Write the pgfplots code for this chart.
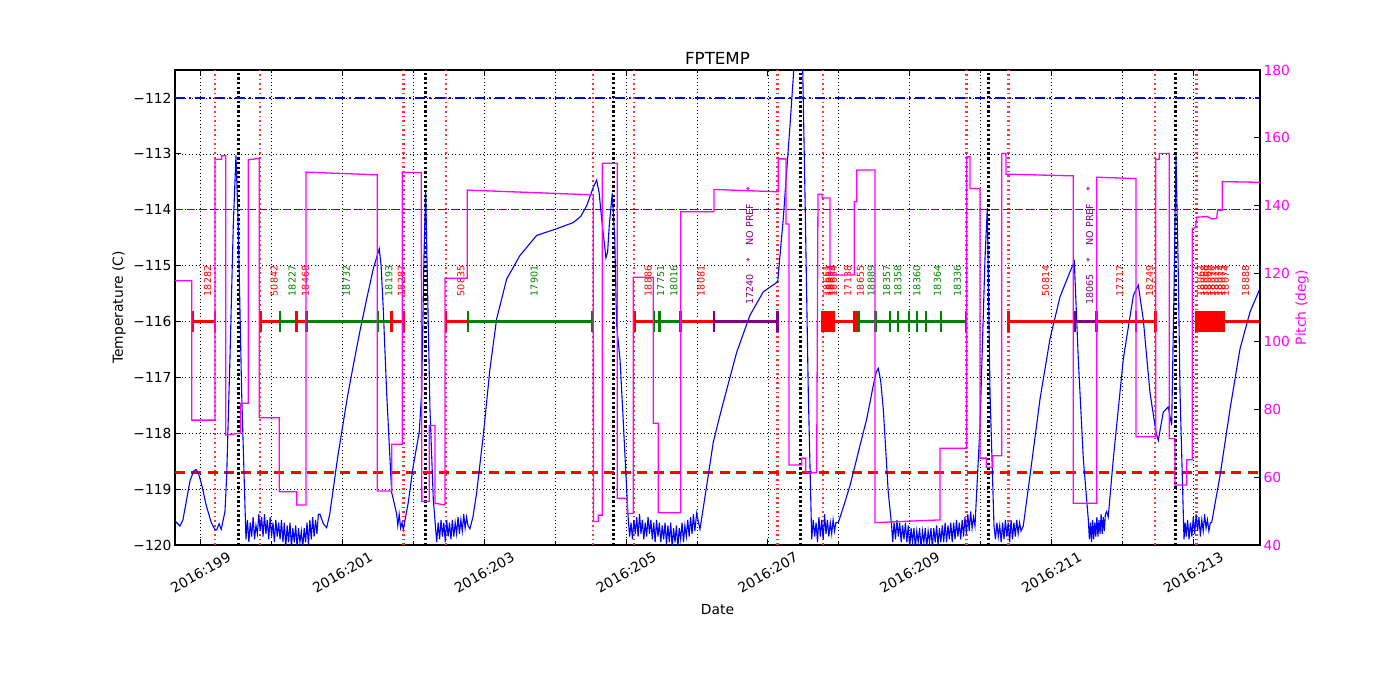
\documentclass[border=0pt]{standalone}
\usepackage{fontspec}
\setmainfont{DejaVu Sans}
\usepackage{pgfplots}
\usepackage{pgfplotstable}
\pgfplotsset{compat=1.18}
\definecolor{mred}{RGB}{255,0,0}
\definecolor{mlred}{RGB}{255,50,50}
\definecolor{mgreen}{RGB}{0,128,0}
\definecolor{mpurple}{RGB}{128,0,128}
\definecolor{mmag}{RGB}{255,0,255}
\definecolor{mblue}{RGB}{0,0,255}
\newcommand{\labfont}{\fontsize{9.6}{11}\selectfont}
\newcommand{\seg}[3]{\addplot[color=#1, line width=2.4bp, mark=|, mark size=10.5bp, mark options={solid, line width=2.4bp}] coordinates {(#2,-116) (#3,-116)};}
\newcommand{\lab}[4]{\node[rotate=90, anchor=north west, inner sep=0pt, text=#1, font=\labfont] at (axis cs:#2,#3) {#4};}

\pgfplotstableread{
x y
198.638 -119.57
198.708 -119.66
198.75 -119.55
198.80 -119.20
198.85 -118.85
198.90 -118.68
198.934 -118.65
198.97 -118.72
199.02 -118.95
199.08 -119.30
199.15 -119.60
199.20 -119.72
199.226 -119.73
199.26 -119.62
199.29 -119.72
199.343 -119.40
199.367 -118.76
199.413 -116.67
199.46 -114.28
199.498 -113.03
199.53 -114.28
199.578 -117.27
199.639 -119.90
199.66 -119.55
199.68 -119.95
199.70 -119.60
199.72 -119.85
199.74 -119.50
199.76 -119.90
199.78 -119.65
199.80 -119.80
199.82 -119.45
199.84 -119.75
199.86 -119.50
199.88 -119.85
199.90 -119.45
199.92 -119.80
199.94 -119.55
199.96 -119.90
199.98 -119.50
200.00 -119.85
200.02 -119.60
200.04 -119.95
200.06 -119.55
200.08 -119.85
200.10 -119.60
200.12 -119.90
200.14 -119.55
200.16 -119.95
200.18 -119.60
200.20 -120.05
200.22 -119.65
200.24 -119.95
200.26 -119.60
200.28 -120.05
200.30 -119.70
200.32 -119.95
200.34 -119.65
200.36 -120.05
200.38 -119.70
200.40 -119.95
200.42 -119.75
200.44 -120.05
200.46 -119.70
200.48 -119.95
200.50 -119.60
200.52 -120.00
200.54 -119.55
200.56 -119.90
200.58 -119.50
200.60 -119.85
200.62 -119.55
200.64 -119.80
200.66 -119.45
200.683 -119.45
200.73 -119.62
200.777 -119.69
200.82 -119.45
200.870 -119.00
200.93 -118.45
200.997 -117.92
201.07 -117.35
201.152 -116.79
201.25 -116.15
201.341 -115.60
201.434 -115.06
201.519 -114.70
201.545 -115.00
201.575 -115.77
201.623 -117.27
201.694 -119.06
201.764 -119.44
201.78 -119.65
201.80 -119.45
201.82 -119.70
201.84 -119.60
201.858 -119.72
201.928 -119.24
201.999 -118.58
202.083 -117.98
202.117 -117.27
202.149 -114.88
202.173 -113.65
202.201 -115.47
202.234 -117.57
202.281 -119.18
202.329 -119.95
202.35 -119.60
202.37 -119.90
202.39 -119.55
202.41 -119.85
202.43 -119.60
202.45 -119.95
202.47 -119.55
202.49 -119.85
202.51 -119.60
202.53 -119.90
202.55 -119.55
202.57 -119.85
202.59 -119.60
202.61 -119.80
202.63 -119.50
202.65 -119.80
202.67 -119.55
202.69 -119.75
202.71 -119.45
202.73 -119.70
202.75 -119.50
202.77 -119.65
202.798 -119.71
202.84 -119.50
202.893 -119.06
202.986 -118.04
203.080 -116.85
203.175 -115.95
203.316 -115.24
203.503 -114.82
203.739 -114.46
204.021 -114.34
204.255 -114.23
204.36 -114.12
204.444 -113.93
204.537 -113.60
204.585 -113.47
204.62 -113.70
204.656 -114.17
204.716 -114.86
204.74 -114.75
204.763 -114.28
204.805 -113.71
204.84 -114.50
204.867 -116.07
204.914 -116.67
204.952 -117.57
205.008 -119.00
205.031 -119.54
205.05 -119.85
205.07 -119.60
205.09 -119.90
205.11 -119.55
205.13 -119.80
205.15 -119.50
205.17 -119.85
205.19 -119.45
205.21 -119.80
205.23 -119.55
205.25 -119.90
205.27 -119.60
205.29 -119.85
205.31 -119.50
205.33 -119.80
205.35 -119.55
205.37 -119.90
205.39 -119.60
205.41 -119.95
205.43 -119.55
205.45 -119.85
205.47 -119.60
205.49 -119.95
205.51 -119.65
205.53 -119.90
205.55 -119.60
205.57 -120.00
205.59 -119.65
205.61 -119.95
205.63 -119.60
205.65 -120.05
205.67 -119.70
205.69 -119.95
205.71 -119.65
205.73 -120.05
205.75 -119.70
205.77 -119.90
205.79 -119.60
205.81 -119.95
205.83 -119.65
205.85 -119.85
205.87 -119.55
205.89 -119.85
205.91 -119.50
205.93 -119.80
205.95 -119.45
205.97 -119.75
205.996 -119.43
206.042 -119.72
206.137 -118.94
206.230 -118.16
206.30 -117.80
206.371 -117.45
206.560 -116.55
206.747 -115.89
206.935 -115.47
207.138 -115.29
207.217 -114.16
207.312 -112.49
207.367 -111.47
207.40 -111.00
207.43 -110.80
207.46 -111.00
207.491 -111.47
207.523 -113.70
207.570 -117.27
207.618 -119.90
207.64 -119.55
207.66 -119.85
207.68 -119.60
207.70 -119.95
207.72 -119.50
207.74 -119.85
207.76 -119.55
207.78 -119.90
207.80 -119.45
207.82 -119.80
207.84 -119.55
207.86 -119.85
207.88 -119.60
207.90 -119.80
207.92 -119.55
207.94 -119.75
207.96 -119.60
207.993 -119.60
208.07 -119.30
208.158 -118.94
208.299 -118.22
208.393 -117.75
208.486 -117.15
208.53 -116.90
208.557 -116.84
208.59 -117.05
208.628 -117.57
208.698 -119.06
208.746 -119.66
208.76 -119.95
208.78 -119.60
208.80 -119.90
208.82 -119.55
208.84 -119.85
208.86 -119.60
208.88 -119.95
208.90 -119.65
208.92 -119.90
208.94 -119.60
208.96 -119.95
208.98 -119.65
209.00 -120.05
209.02 -119.70
209.04 -119.95
209.06 -119.70
209.08 -120.05
209.10 -119.75
209.12 -119.95
209.14 -119.70
209.16 -120.05
209.18 -119.75
209.20 -119.95
209.22 -119.70
209.24 -120.05
209.26 -119.75
209.28 -119.95
209.30 -119.70
209.32 -120.05
209.34 -119.70
209.36 -119.95
209.38 -119.65
209.40 -120.00
209.42 -119.70
209.44 -119.95
209.46 -119.65
209.48 -119.95
209.50 -119.60
209.52 -119.95
209.54 -119.65
209.56 -119.90
209.58 -119.60
209.60 -119.95
209.62 -119.60
209.64 -119.90
209.66 -119.55
209.68 -119.85
209.70 -119.60
209.72 -119.90
209.74 -119.55
209.76 -119.85
209.78 -119.50
209.80 -119.80
209.82 -119.45
209.84 -119.75
209.86 -119.40
209.88 -119.70
209.90 -119.50
209.921 -119.66
209.992 -117.86
210.062 -114.88
210.095 -113.97
210.133 -117.27
210.189 -119.66
210.21 -119.90
210.23 -119.60
210.25 -119.85
210.27 -119.65
210.29 -119.95
210.31 -119.60
210.33 -119.90
210.35 -119.55
210.37 -119.85
210.39 -119.60
210.41 -119.95
210.43 -119.55
210.45 -119.90
210.47 -119.60
210.49 -119.85
210.51 -119.55
210.53 -119.80
210.55 -119.60
210.57 -119.75
210.602 -119.66
210.697 -118.76
210.838 -117.39
210.979 -116.31
211.120 -115.56
211.261 -115.11
211.322 -114.93
211.378 -116.67
211.449 -118.46
211.519 -119.54
211.535 -119.90
211.55 -119.60
211.565 -119.95
211.58 -119.55
211.595 -119.90
211.61 -119.60
211.625 -119.85
211.64 -119.50
211.655 -119.85
211.67 -119.55
211.685 -119.80
211.70 -119.45
211.715 -119.80
211.73 -119.50
211.745 -119.75
211.76 -119.45
211.778 -119.40
211.80 -119.50
211.872 -118.46
212.013 -116.67
212.154 -115.54
212.224 -115.35
212.295 -115.97
212.389 -117.27
212.474 -117.98
212.506 -118.13
212.577 -117.62
212.647 -117.53
212.695 -117.86
212.728 -115.47
212.756 -113.03
212.785 -114.88
212.813 -117.27
212.869 -119.90
212.885 -119.60
212.90 -119.85
212.92 -119.55
212.94 -119.90
212.96 -119.60
212.98 -119.85
213.00 -119.50
213.02 -119.80
213.04 -119.45
213.06 -119.75
213.08 -119.50
213.10 -119.85
213.12 -119.55
213.14 -119.75
213.16 -119.45
213.18 -119.70
213.20 -119.55
213.22 -119.75
213.24 -119.60
213.259 -119.60
213.377 -118.76
213.518 -117.57
213.659 -116.49
213.800 -115.83
213.941 -115.41
}\temptable

\pgfplotstableread{
x y
198.638 117.9
198.873 117.9
198.873 76.8
199.202 76.8
199.202 153.7
199.296 153.7
199.296 154.7
199.353 154.7
199.353 72.4
199.564 73.0
199.564 81.8
199.671 81.8
199.671 153.5
199.827 154.0
199.827 77.5
200.109 77.5
200.109 55.7
200.354 55.7
200.354 51.8
200.485 51.8
200.485 149.9
201.491 149.1
201.491 55.9
201.694 55.9
201.694 69.7
201.843 69.7
201.843 149.8
202.11 149.8
202.12 52.8
202.224 52.8
202.224 75.2
202.305 75.2
202.305 52.3
202.446 51.8
202.446 118.6
202.760 118.6
202.760 144.6
204.537 143.2
204.540 46.9
204.608 46.9
204.608 48.8
204.664 48.8
204.664 152.5
204.876 152.5
204.876 53.8
205.017 53.8
205.017 49.3
205.101 49.3
205.101 118.9
205.384 118.9
205.384 75.9
205.454 75.9
205.454 49.5
205.770 49.5
205.770 138.2
206.240 138.2
206.240 144.8
207.147 144.1
207.147 153.8
207.256 153.8
207.256 134.6
207.298 134.6
207.298 63.6
207.477 63.6
207.477 65.6
207.533 65.6
207.533 61.3
207.688 61.3
207.707 143.4
207.763 143.4
207.763 142.3
207.876 142.3
207.876 119.6
208.219 119.6
208.219 141.2
208.252 141.2
208.252 150.5
208.511 150.5
208.511 46.6
209.428 47.4
209.428 68.5
209.804 68.5
209.804 154.4
209.851 154.4
209.851 145.1
209.992 145.1
209.992 65.6
210.08 65.6
210.08 62.9
210.171 62.9
210.171 66.3
210.298 66.3
210.298 155.4
210.358 155.4
210.358 149.3
211.307 148.8
211.307 52.3
211.637 52.3
211.637 148.4
212.192 148.0
212.192 71.9
212.470 71.9
212.470 153.7
212.520 153.7
212.520 155.4
212.662 155.4
212.662 71.4
212.742 71.4
212.742 57.7
212.907 57.7
212.907 65.1
212.986 65.1
212.986 133.3
213.03 133.5
213.048 136.6
213.20 136.8
213.26 136.1
213.33 136.3
213.344 138.7
213.409 138.7
213.409 147.1
213.941 146.9
}\pitchtable

\begin{document}
\begin{tikzpicture}
\path[use as bounding box] (-175bp,-155bp) rectangle (1225bp,545bp);
\begin{axis}[
  at={(0,0)}, anchor=south west,
  scale only axis, width=1085bp, height=475bp,
  xmin=198.638, xmax=213.941, ymin=-120, ymax=-111.5,
  font=\fontsize{13.9}{16}\selectfont,
  xtick={199,201,203,205,207,209,211,213},
  minor xtick={200,202,204,206,208,210,212},
  xticklabels={2016:199,2016:201,2016:203,2016:205,2016:207,2016:209,2016:211,2016:213},
  ytick={-120,-119,-118,-117,-116,-115,-114,-113,-112},
  yticklabels={−120,−119,−118,−117,−116,−115,−114,−113,−112},
  xtick pos=both, ytick pos=left,
  grid=both,
  major grid style={black, line width=0.6bp, dash pattern=on 1bp off 2.5bp},
  minor grid style={black, line width=0.6bp, dash pattern=on 1bp off 2.5bp},
  tick align=inside,
  major tick length=6bp, minor tick length=3bp,
  every tick/.style={black, line width=0.8bp},
  axis line style={line width=1.2bp},
  xticklabel style={yshift=-27.5bp, rotate=30, anchor=center},
  title={FPTEMP},
  every axis title/.style={at={(axis description cs:0.5,1.0126)}, anchor=base, font=\fontsize{16.7}{20}\selectfont},
  xlabel={Date},
  every axis x label/.style={at={(axis description cs:0.5,-0.1453)}, anchor=base},
  ylabel={Temperature (C)},
  every axis y label/.style={at={(axis description cs:-0.0516,0.5)}, anchor=center, rotate=90},
]
\pgfplotsinvokeforeach{199.206,199.835,201.858,202.460,204.537,205.110,207.138,207.780,209.804,210.391,212.462,213.048}{
  \addplot[mlred, line width=2.4bp, dash pattern=on 1.6bp off 3bp] coordinates {(#1,-120) (#1,-111.5)};
}
\pgfplotsinvokeforeach{199.530,202.173,204.820,207.463,210.108,212.756}{
  \addplot[black, line width=3bp, dash pattern=on 2.4bp off 2.3bp] coordinates {(#1,-120) (#1,-111.5)};
}
\addplot[mblue, line width=1.3bp, dash pattern=on 10bp off 4bp on 2bp off 4bp] coordinates {(198.638,-112) (213.941,-112)};
\addplot[mpurple, line width=1.3bp, dash pattern=on 8bp off 4bp] coordinates {(198.638,-114) (213.941,-114)};
\addplot[mred, line width=2.8bp, dash pattern=on 10bp off 6.5bp] coordinates {(198.638,-118.7) (213.941,-118.7)};

\addplot[mblue, line width=1.1bp] table[x=x,y=y] {\temptable};

\seg{mred}{198.887}{199.202}
\seg{mred}{199.846}{200.118}
\seg{mgreen}{200.118}{200.354}
\seg{mred}{200.354}{200.495}
\seg{mgreen}{200.495}{201.505}
\seg{mgreen}{201.505}{201.694}
\seg{mred}{201.694}{201.858}
\seg{mred}{202.460}{202.774}
\seg{mgreen}{202.774}{204.523}
\seg{mred}{205.116}{205.398}
\seg{mgreen}{205.398}{205.471}
\seg{mgreen}{205.471}{205.770}
\seg{mred}{205.770}{206.240}
\seg{mpurple}{206.240}{207.138}
\addplot[mred, only marks, mark=|, mark size=10.5bp, mark options={solid, line width=2.4bp}] coordinates {(207.773,-116) (207.79,-116) (207.808,-116) (207.826,-116) (207.844,-116) (207.862,-116) (207.88,-116) (207.898,-116) (207.916,-116) (207.932,-116)};
\seg{mred}{207.932}{208.214}
\addplot[mred, only marks, mark=|, mark size=10.5bp, mark options={solid, line width=2.4bp}] coordinates {(208.214,-116) (208.232,-116) (208.25,-116) (208.268,-116)};
\seg{mgreen}{208.285}{208.520}
\seg{mgreen}{208.520}{208.722}
\seg{mgreen}{208.722}{208.839}
\seg{mgreen}{208.839}{208.990}
\seg{mgreen}{208.990}{209.107}
\seg{mgreen}{209.107}{209.230}
\seg{mgreen}{209.230}{209.441}
\seg{mgreen}{209.441}{209.794}
\seg{mred}{210.391}{211.332}
\seg{mpurple}{211.332}{211.637}
\seg{mred}{211.637}{212.191}
\seg{mred}{212.191}{212.469}
\addplot[mred, only marks, mark=|, mark size=10.5bp, mark options={solid, line width=2.4bp}] coordinates {(213.048,-116) (213.066,-116) (213.084,-116) (213.102,-116) (213.12,-116) (213.138,-116) (213.156,-116) (213.174,-116) (213.192,-116) (213.21,-116) (213.228,-116) (213.246,-116) (213.264,-116) (213.282,-116) (213.30,-116) (213.318,-116) (213.336,-116) (213.354,-116) (213.372,-116) (213.39,-116) (213.408,-116) (213.433,-116)};
\seg{mred}{213.433}{213.95}

\lab{mred}{199.045}{-115.55}{18282}
\lab{mred}{199.982}{-115.55}{50842}
\lab{mgreen}{200.236}{-115.55}{18227}
\lab{mred}{200.425}{-115.55}{18468}
\lab{mgreen}{201.0}{-115.55}{18732}
\lab{mgreen}{201.600}{-115.55}{18193}
\lab{mred}{201.776}{-115.55}{18287}
\lab{mred}{202.617}{-115.55}{50835}
\lab{mgreen}{203.649}{-115.55}{17901}
\lab{mred}{205.257}{-115.55}{18886}
\lab{mgreen}{205.435}{-115.55}{17751}
\lab{mgreen}{205.621}{-115.55}{18016}
\lab{mred}{206.005}{-115.55}{18081}
\lab{mpurple}{206.689}{-115.70}{17240\hspace{12bp}*\hspace{12bp}NO PREF\hspace{12bp}*}
\lab{mred}{207.78}{-115.55}{18651}
\lab{mred}{207.81}{-115.55}{18652}
\lab{mred}{207.84}{-115.55}{18653}
\lab{mred}{207.87}{-115.55}{18654}
\lab{mred}{208.073}{-115.55}{17138}
\lab{mred}{208.25}{-115.55}{18655}
\lab{mgreen}{208.403}{-115.55}{18889}
\lab{mgreen}{208.621}{-115.55}{18357}
\lab{mgreen}{208.781}{-115.55}{18358}
\lab{mgreen}{209.049}{-115.55}{18360}
\lab{mgreen}{209.336}{-115.55}{18364}
\lab{mgreen}{209.618}{-115.55}{18336}
\lab{mred}{210.862}{-115.55}{50814}
\lab{mpurple}{211.485}{-115.70}{18065\hspace{12bp}*\hspace{12bp}NO PREF\hspace{12bp}*}
\lab{mred}{211.914}{-115.55}{17717}
\lab{mred}{212.33}{-115.55}{18249}
\lab{mred}{213.05}{-115.55}{18067}
\lab{mred}{213.10}{-115.55}{18068}
\lab{mred}{213.15}{-115.55}{18069}
\lab{mred}{213.20}{-115.55}{18070}
\lab{mred}{213.25}{-115.55}{18071}
\lab{mred}{213.30}{-115.55}{18072}
\lab{mred}{213.35}{-115.55}{18073}
\lab{mred}{213.40}{-115.55}{18074}
\lab{mred}{213.683}{-115.55}{18888}
\end{axis}

\begin{axis}[
  at={(0,0)}, anchor=south west,
  scale only axis, width=1085bp, height=475bp,
  xmin=198.638, xmax=213.941, ymin=40, ymax=180,
  font=\fontsize{13.9}{16}\selectfont,
  axis x line=none, axis y line*=right,
  xtick=\empty,
  ytick={40,60,80,100,120,140,160,180},
  yticklabels={40,60,80,100,120,140,160,180},
  yticklabel style={text=mmag},
  tick align=inside,
  major tick length=6bp,
  every tick/.style={black, line width=0.8bp},
  axis line style={line width=1.2bp},
  ylabel={Pitch (deg)},
  every axis y label/.style={at={(axis description cs:1.0387,0.5)}, anchor=center, rotate=90, text=mmag},
]
\addplot[mmag, line width=1.3bp] table[x=x,y=y] {\pitchtable};
\end{axis}
\end{tikzpicture}
\end{document}
